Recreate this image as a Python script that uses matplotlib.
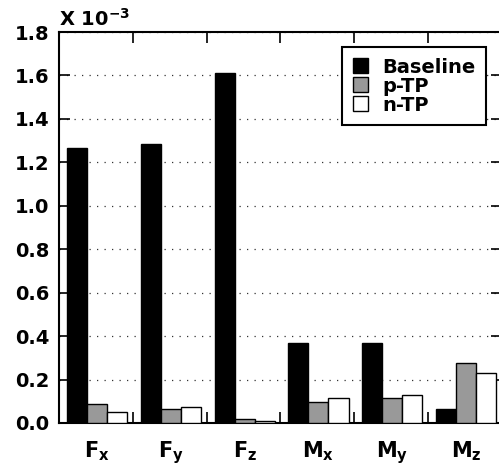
import matplotlib
matplotlib.use("Agg")
import matplotlib.pyplot as plt
import numpy as np

categories = ["F", "F", "F", "M", "M", "M"]
subscripts = ["x", "y", "z", "x", "y", "z"]
baseline = [1.265, 1.285, 1.61, 0.368, 0.368, 0.064]
p_tp = [0.088, 0.064, 0.018, 0.097, 0.113, 0.276]
n_tp = [0.050, 0.074, 0.010, 0.115, 0.129, 0.230]
series_names = ["Baseline", "p-TP", "n-TP"]
yticks = [0.0, 0.2, 0.4, 0.6, 0.8, 1.0, 1.2, 1.4, 1.6, 1.8]

plt.rcParams['font.family'] = ['DejaVu Sans']
plt.rcParams['font.weight'] = 'bold'
plt.rcParams['mathtext.default'] = 'bf'

fig = plt.figure(figsize=(4.99, 4.66), dpi=100)
ax = fig.add_axes([59/499, 1 - 423/466, 443/499, (423 - 32)/466])

n = len(categories)
x = np.arange(n)
w = 0.271
start = -0.5 + 0.108
colors = ["black", "#999999", "white"]
for k, (vals, name) in enumerate(zip([baseline, p_tp, n_tp], series_names)):
    ax.bar(x + start + w * (k + 0.5), vals, width=w, color=colors[k],
           edgecolor="black", linewidth=1.0, label=name, zorder=3)

ax.set_xlim(-0.5, n - 0.5)
ax.set_ylim(0, 1.8)
ax.set_yticks(yticks)
ax.set_yticklabels([f"{v:.1f}" for v in yticks])
ax.yaxis.grid(True, linestyle=(0, (1, 5)), color="#333333", linewidth=0.9, zorder=0)
ax.set_axisbelow(True)

ax.set_xticks(np.arange(n + 1) - 0.5)
ax.set_xticklabels([])
ax.set_xticks(x + 0.015, minor=True)
ax.set_xticklabels([rf"$\mathbf{{{c}}}_\mathbf{{{s}}}$" for c, s in zip(categories, subscripts)],
                   minor=True)
ax.tick_params(axis="x", which="major", direction="in", top=True, bottom=True, length=8, width=1.2)
ax.tick_params(axis="x", which="minor", length=0, pad=12, labelsize=15)
ax.tick_params(axis="y", which="major", direction="in", left=True, right=True, length=8,
               width=1.2, labelsize=14, pad=7)
for lab in ax.get_yticklabels():
    lab.set_fontweight("bold")

for sp in ax.spines.values():
    sp.set_linewidth(1.5)

ax.text(0.0, 1.005, r"X 10$^{\mathbf{-3}}$", transform=ax.transAxes, ha="left", va="bottom",
        fontsize=14, fontweight="bold")

leg = ax.legend(loc="upper right", bbox_to_anchor=(0.964, 0.962), fancybox=False,
                edgecolor="black", framealpha=1, prop={"weight": "bold", "size": 14},
                handlelength=0.8, handleheight=0.8, labelspacing=0.0, handletextpad=0.7,
                borderpad=0.55, borderaxespad=0)
leg.get_frame().set_linewidth(1.5)
leg._legend_box.sep = 0
for t in leg.get_texts():
    pass

fig.savefig("out.png", dpi=100)
